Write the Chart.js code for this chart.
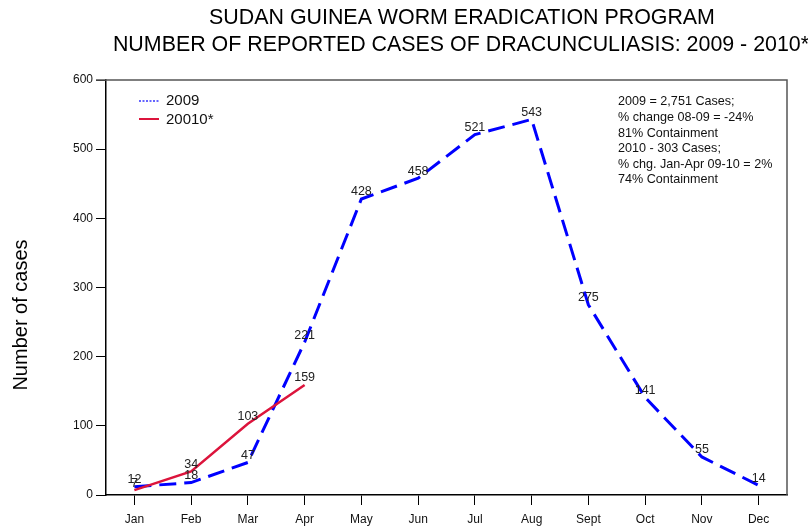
<!DOCTYPE html>
<html><head><meta charset="utf-8">
<script src="https://cdn.jsdelivr.net/npm/chart.js@4/dist/chart.umd.min.js"></script>
<style>html,body{margin:0;padding:0;background:#fff}#w{width:808px;height:528px}</style>
</head><body><div id="w"><canvas id="c" width="808" height="528"></canvas></div>
<script>
const months = ["Jan","Feb","Mar","Apr","May","Jun","Jul","Aug","Sept","Oct","Nov","Dec"];
const cases2009 = [12,18,47,221,428,458,521,543,275,141,55,14];
const cases2010 = [7,34,103,159,null,null,null,null,null,null,null,null];
const seriesNames = ["2009","20010*"];
const titleLines = ["SUDAN GUINEA WORM ERADICATION PROGRAM","NUMBER OF REPORTED CASES OF DRACUNCULIASIS: 2009 - 2010*"];
const yTitle = "Number of cases";
const noteLines = ["2009 = 2,751 Cases;","% change 08-09 = -24%","81% Containment","2010 - 303 Cases;","% chg. Jan-Apr 09-10 = 2%","74% Containment"];
const FONT = "'Liberation Sans', Arial, sans-serif";

const deco = {
  id:'deco',
  afterDraw(chart){
    const {ctx, chartArea:a} = chart;
    ctx.save();
    ctx.strokeStyle='#555'; ctx.lineWidth=1.5;
    ctx.beginPath(); ctx.moveTo(a.left-10,a.top); ctx.lineTo(a.right,a.top); ctx.lineTo(a.right,a.bottom); ctx.stroke();
    ctx.fillStyle='#000'; ctx.textAlign='center'; ctx.textBaseline='middle';
    ctx.font='21.4px '+FONT;
    ctx.fillText(titleLines[0],462,18);
    ctx.fillText(titleLines[1],461,45);
    ctx.save(); ctx.translate(21,315); ctx.rotate(-Math.PI/2);
    ctx.font='20px '+FONT; ctx.fillText(yTitle,0,0); ctx.restore();
    ctx.font='15px '+FONT; ctx.textAlign='left';
    ctx.strokeStyle='#3333ff'; ctx.lineWidth=1.5; ctx.setLineDash([2,1.5]);
    ctx.beginPath(); ctx.moveTo(139,101); ctx.lineTo(159,101); ctx.stroke();
    ctx.setLineDash([]);
    ctx.strokeStyle='#dc143c'; ctx.lineWidth=2;
    ctx.beginPath(); ctx.moveTo(139,119); ctx.lineTo(159,119); ctx.stroke();
    ctx.fillStyle='#111';
    ctx.fillText(seriesNames[0],166,101);
    ctx.fillText(seriesNames[1],166,120);
    ctx.font='12.6px '+FONT;
    noteLines.forEach((t,i)=>ctx.fillText(t,618,102+i*15.6));
    ctx.textAlign='center'; ctx.font='12.5px '+FONT; ctx.fillStyle='#222';
    chart.data.datasets.forEach((ds,di)=>{
      const meta=chart.getDatasetMeta(di);
      meta.data.forEach((p,i)=>{
        const v=ds.data[i]; if(v==null) return;
        ctx.fillText(String(v),p.x,p.y-7);
      });
    });
    ctx.restore();
  }
};

new Chart(document.getElementById('c'),{
  type:'line',
  data:{labels:months,datasets:[
    {label:seriesNames[0],data:cases2009,borderColor:'#0000ff',borderWidth:3,borderDash:[17,8],pointRadius:0,tension:0,fill:false,order:2},
    {label:seriesNames[1],data:cases2010,borderColor:'#dc143c',borderWidth:2.5,pointRadius:0,tension:0,fill:false,spanGaps:false,order:1}
  ]},
  options:{
    responsive:false,animation:false,
    layout:{padding:{top:80,right:21,left:0,bottom:0}},
    plugins:{legend:{display:false},title:{display:false},tooltip:{enabled:false}},
    scales:{
      x:{offset:true,
        grid:{drawOnChartArea:false,drawTicks:true,tickLength:10,color:'#000',offset:false},
        border:{display:true,color:'#000',width:1.5},
        ticks:{color:'#111',font:{size:12,family:FONT},padding:7,maxRotation:0},
        afterFit(s){s.height=33;}
      },
      y:{min:0,max:600,
        grid:{drawOnChartArea:false,drawTicks:true,tickLength:10,color:'#000'},
        border:{display:true,color:'#000',width:1.5},
        ticks:{stepSize:100,color:'#111',font:{size:12,family:FONT},padding:3},
        afterFit(s){s.width=106;}
      }
    }
  },
  plugins:[deco]
});
</script></body></html>
